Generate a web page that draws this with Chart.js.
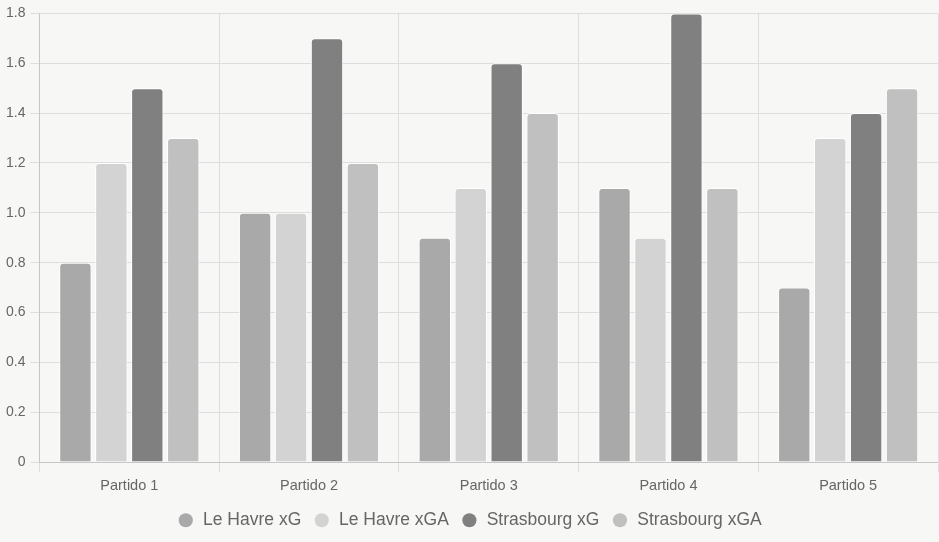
<!DOCTYPE html>
<html>
<head>
<meta charset="utf-8">
<script src="https://cdn.jsdelivr.net/npm/chart.js@4"></script>
<style>
  html, body { margin: 0; padding: 0; background: #f7f7f5; }
  #wrap { width: 939px; height: 542px; }
</style>
</head>
<body>
<div id="wrap"><canvas id="xg-chart"></canvas></div>
<script>
// partidos
const partidos = ["Partido 1", "Partido 2", "Partido 3", "Partido 4", "Partido 5"];
const leHavreXG = [0.8, 1.0, 0.9, 1.1, 0.7];
const leHavreXGA = [1.2, 1.0, 1.1, 0.9, 1.3];
const strasbourgXG = [1.5, 1.7, 1.6, 1.8, 1.4];
const strasbourgXGA = [1.3, 1.2, 1.4, 1.1, 1.5];

Chart.defaults.font.family = "'Liberation Sans', Arial, sans-serif";
Chart.defaults.color = "#666";

const barStyle = { borderColor: "#ffffff", borderWidth: 1, borderRadius: 4 };

new Chart(document.getElementById("xg-chart"), {
    type: 'bar',
    data: {
        labels: partidos,
        datasets: [
            { label: "Le Havre xG", data: leHavreXG, backgroundColor: "#a9a9a9", ...barStyle },
            { label: "Le Havre xGA", data: leHavreXGA, backgroundColor: "#d3d3d3", ...barStyle },
            { label: "Strasbourg xG", data: strasbourgXG, backgroundColor: "#808080", ...barStyle },
            { label: "Strasbourg xGA", data: strasbourgXGA, backgroundColor: "#c0c0c0", ...barStyle }
        ]
    },
    options: {
        responsive: true,
        maintainAspectRatio: false,
        animation: false,
        layout: { padding: { top: 7, right: 1, left: 1, bottom: 3 } },
        scales: {
            x: {
                grid: { color: "#dddddd", tickLength: 10 },
                ticks: { font: { size: 14.5 }, padding: 5 }
            },
            y: {
                min: 0,
                max: 1.8,
                grid: { color: "#dddddd", tickLength: 9 },
                ticks: {
                    stepSize: 0.2,
                    padding: 5,
                    font: { size: 14 },
                    callback: v => v === 0 ? "0" : v.toFixed(1)
                }
            }
        },
        plugins: {
            legend: {
                position: 'bottom',
                labels: {
                    usePointStyle: true,
                    pointStyle: 'circle',
                    font: { size: 17.5 },
                    boxWidth: 17,
                    boxHeight: 10,
                    padding: 12,
                    generateLabels: chart => {
                        const items = Chart.defaults.plugins.legend.labels.generateLabels(chart);
                        items.forEach(it => { it.lineWidth = 0; });
                        return items;
                    }
                }
            },
            tooltip: { enabled: false }
        }
    }
});
</script>
</body>
</html>
